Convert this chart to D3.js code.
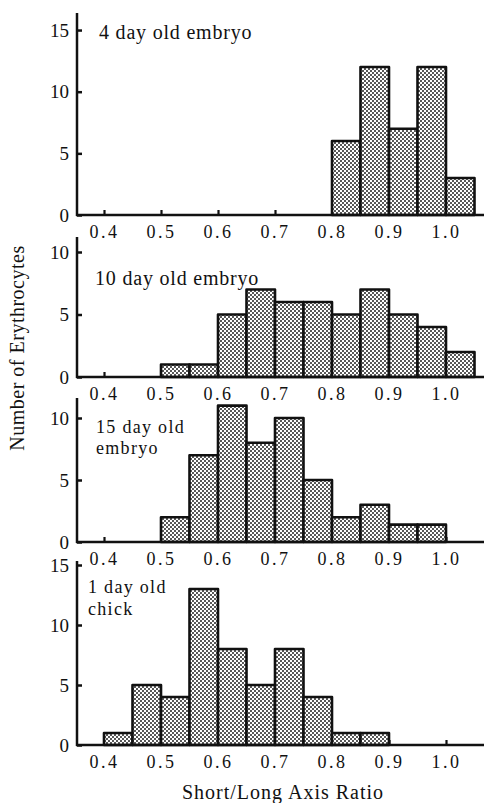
<!DOCTYPE html>
<html>
<head>
<meta charset="utf-8">
<script src="https://cdn.jsdelivr.net/npm/d3@7"></script>
<style>
  html, body { margin: 0; padding: 0; background: #fff; }
  svg text { font-family: "Liberation Serif", "DejaVu Serif", "Times New Roman", serif !important; fill: #111; }
</style>
</head>
<body>
<div id="chart"></div>
<script>
// left edge of each 0.05-wide bin
var binStarts = [0.40, 0.45, 0.50, 0.55, 0.60, 0.65, 0.70, 0.75, 0.80, 0.85, 0.90, 0.95, 1.00];
var binWidth = 0.05;
var xTickValues = [0.4, 0.5, 0.6, 0.7, 0.8, 0.9, 1.0];

var day4Counts  = [0, 0, 0, 0, 0, 0, 0, 0, 6, 12, 7, 12, 3];
var day10Counts = [0, 0, 1, 1, 5, 7, 6, 6, 5, 7, 5, 4, 2];
var day15Counts = [0, 0, 2, 7, 11, 8, 10, 5, 2, 3, 1.4, 1.4, 0];
var chickCounts = [1, 5, 4, 13, 8, 5, 8, 4, 1, 1, 0, 0, 0];

var panelLabels = [['4 day old embryo'], ['10 day old embryo'], ['15 day old', 'embryo'], ['1 day old', 'chick']];
var panelYTicks = [[0, 5, 10, 15], [0, 5, 10], [0, 5, 10], [0, 5, 10, 15]];
var panelCounts = [day4Counts, day10Counts, day15Counts, chickCounts];

var yTitle = 'Number of Erythrocytes';
var xTitle = 'Short/Long Axis Ratio';

// layout only
var width = 487, height = 803;
var axisX = 77, axisRight = 484;
var serif = '"Liberation Serif", "DejaVu Serif", "Times New Roman", serif';
var layout = [
  { zero: 215, top: 13,  unit: 12.33, labelX: 99, labelY: 39,  lineH: 20 },
  { zero: 377, top: 237, unit: 12.5,  labelX: 95, labelY: 285, lineH: 20 },
  { zero: 542, top: 398, unit: 12.4,  labelX: 96, labelY: 433, lineH: 20.5 },
  { zero: 745, top: 561, unit: 12.0,  labelX: 88, labelY: 593, lineH: 22 }
];

var svg = d3.select('#chart').append('svg')
  .attr('width', width)
  .attr('height', height);

var defs = svg.append('defs');
var pat = defs.append('pattern')
  .attr('id', 'dots')
  .attr('patternUnits', 'userSpaceOnUse')
  .attr('width', 4)
  .attr('height', 4);
pat.append('rect').attr('width', 4).attr('height', 4).attr('fill', '#fff');
pat.append('circle').attr('cx', 1).attr('cy', 1).attr('r', 0.95).attr('fill', '#111');
pat.append('circle').attr('cx', 3).attr('cy', 3).attr('r', 0.95).attr('fill', '#111');

var x = d3.scaleLinear().domain([0.4, 1.0]).range([104, 446]);

panelCounts.forEach(function (counts, i) {
  var L = layout[i];
  var y = d3.scaleLinear().domain([0, 10]).range([L.zero, L.zero - 10 * L.unit]);
  var g = svg.append('g').attr('class', 'panel');

  // x axis, ticks pointing up into the plot
  var xAxis = g.append('g')
    .attr('transform', 'translate(0,' + L.zero + ')')
    .call(d3.axisBottom(x).tickValues(xTickValues).tickSize(-5).tickPadding(10)
      .tickFormat(d3.format('.1f')));
  xAxis.attr('font-family', serif);
  xAxis.select('.domain').remove();
  xAxis.selectAll('line').attr('stroke', '#111').attr('stroke-width', 2.2);
  xAxis.selectAll('text')
    .attr('font-size', '18px')
    .style('font-family', serif)
    .style('letter-spacing', '2.5px');

  // y axis, ticks pointing right
  var yAxis = g.append('g')
    .attr('transform', 'translate(' + axisX + ',0)')
    .call(d3.axisLeft(y).tickValues(panelYTicks[i]).tickSize(-5).tickPadding(8)
      .tickFormat(d3.format('d')));
  yAxis.attr('font-family', serif);
  yAxis.select('.domain').remove();
  yAxis.selectAll('line').attr('stroke', '#111').attr('stroke-width', 2.5);
  yAxis.selectAll('text')
    .attr('font-size', '19px')
    .style('font-family', serif);

  g.append('line')
    .attr('x1', axisX).attr('x2', axisX)
    .attr('y1', L.zero + 1).attr('y2', L.top)
    .attr('stroke', '#111').attr('stroke-width', 2.5);

  // bars
  var bins = binStarts.map(function (b, j) { return { start: b, count: counts[j] }; })
    .filter(function (d) { return d.count > 0; });
  g.selectAll('rect.bar')
    .data(bins)
    .enter().append('rect')
    .attr('class', 'bar')
    .attr('x', function (d) { return x(d.start); })
    .attr('width', function (d) { return x(d.start + binWidth) - x(d.start); })
    .attr('y', function (d) { return y(d.count); })
    .attr('height', function (d) { return L.zero - y(d.count); })
    .attr('fill', 'url(#dots)')
    .attr('stroke', '#111')
    .attr('stroke-width', 2.6)
    .attr('stroke-linejoin', 'round');

  g.append('line')
    .attr('x1', axisX - 1).attr('x2', axisRight)
    .attr('y1', L.zero).attr('y2', L.zero)
    .attr('stroke', '#111').attr('stroke-width', 2.6);

  var twoLines = panelLabels[i].length > 1;
  panelLabels[i].forEach(function (line, k) {
    g.append('text')
      .attr('x', L.labelX)
      .attr('y', L.labelY + k * L.lineH)
      .attr('font-size', twoLines ? '18px' : '20px')
      .style('font-family', serif)
      .style('letter-spacing', twoLines ? '1.3px' : '0.8px')
      .text(line);
  });
});

svg.append('text')
  .attr('transform', 'translate(24,348) rotate(-90)')
  .attr('text-anchor', 'middle')
  .attr('font-size', '20px')
  .style('font-family', serif)
  .style('letter-spacing', '0.5px')
  .text(yTitle);

svg.append('text')
  .attr('x', 283)
  .attr('y', 799)
  .attr('text-anchor', 'middle')
  .attr('font-size', '20px')
  .style('font-family', serif)
  .style('letter-spacing', '1px')
  .text(xTitle);
</script>
</body>
</html>
